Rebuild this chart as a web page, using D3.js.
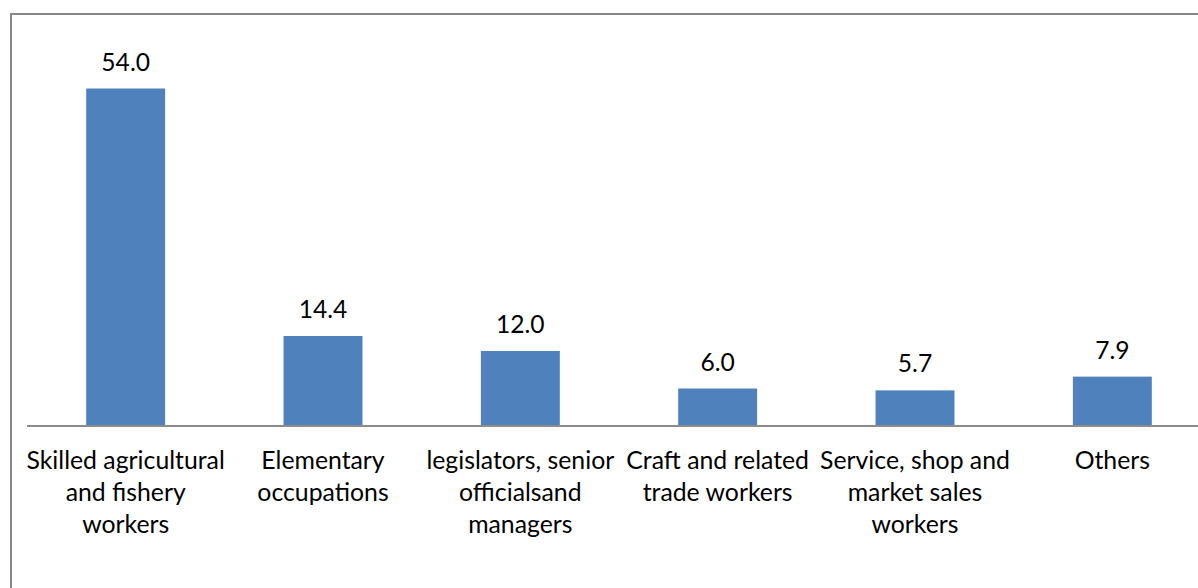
<!DOCTYPE html>
<html>
<head>
<meta charset="utf-8">
<script src="https://cdn.jsdelivr.net/npm/d3@7"></script>
<style>
  html, body { margin: 0; padding: 0; background: #fff; }
  svg { display: block; }
  text { font-family: Lato, "Open Sans", sans-serif; fill: #000; }
</style>
</head>
<body>
<svg id="chart" width="1198" height="588"></svg>
<script>
// Occupation categories (each label split into display lines)
const categories = [
  "Skilled agricultural and fishery workers",
  "Elementary occupations",
  "legislators, senior officialsand managers",
  "Craft and related trade workers",
  "Service, shop and market sales workers",
  "Others"
];
const categoryLines = [
  ["Skilled agricultural", "and fishery", "workers"],
  ["Elementary", "occupations"],
  ["legislators, senior", "officialsand", "managers"],
  ["Craft and related", "trade workers"],
  ["Service, shop and", "market sales", "workers"],
  ["Others"]
];
// Share of employed persons (%)
const values = [54.0, 14.4, 12.0, 6.0, 5.7, 7.9];

const svg = d3.select("#chart");
const W = 1198, H = 588;

// Chart frame (runs off the right and bottom edges)
svg.append("rect")
  .attr("x", 11).attr("y", 14)
  .attr("width", 1240).attr("height", 640)
  .attr("fill", "none")
  .attr("stroke", "#878787")
  .attr("stroke-width", 2);

const plot = { left: 27, right: 1211, top: 51, bottom: 426 };

const x = d3.scaleBand()
  .domain(categories)
  .range([plot.left, plot.right])
  .paddingInner(0.6)
  .paddingOuter(0.3);

const y = d3.scaleLinear()
  .domain([0, 60])
  .range([plot.bottom, plot.top]);

// Bars
svg.append("g").selectAll("rect")
  .data(values)
  .join("rect")
  .attr("x", (d, i) => x(categories[i]))
  .attr("y", d => y(d))
  .attr("width", x.bandwidth())
  .attr("height", d => y(0) - y(d))
  .attr("fill", "#4f81bd");

// Category axis line
svg.append("line")
  .attr("x1", plot.left).attr("x2", W)
  .attr("y1", y(0)).attr("y2", y(0))
  .attr("stroke", "#8c8c8c")
  .attr("stroke-width", 2);

// Value labels
svg.append("g").selectAll("text")
  .data(values)
  .join("text")
  .attr("x", (d, i) => x(categories[i]) + x.bandwidth() / 2)
  .attr("y", d => y(d) - 18)
  .attr("text-anchor", "middle")
  .attr("font-size", 24.6)
  .text(d => d.toFixed(1));

// Category labels
const labels = svg.append("g").selectAll("text")
  .data(categories)
  .join("text")
  .attr("x", d => x(d) + x.bandwidth() / 2)
  .attr("y", 469)
  .attr("text-anchor", "middle")
  .attr("font-size", 24.8);

labels.selectAll("tspan")
  .data((d, i) => categoryLines[i])
  .join("tspan")
  .attr("x", function () { return this.parentNode.getAttribute("x"); })
  .attr("dy", (d, i) => i === 0 ? 0 : 32)
  .text(d => d);
</script>
</body>
</html>
